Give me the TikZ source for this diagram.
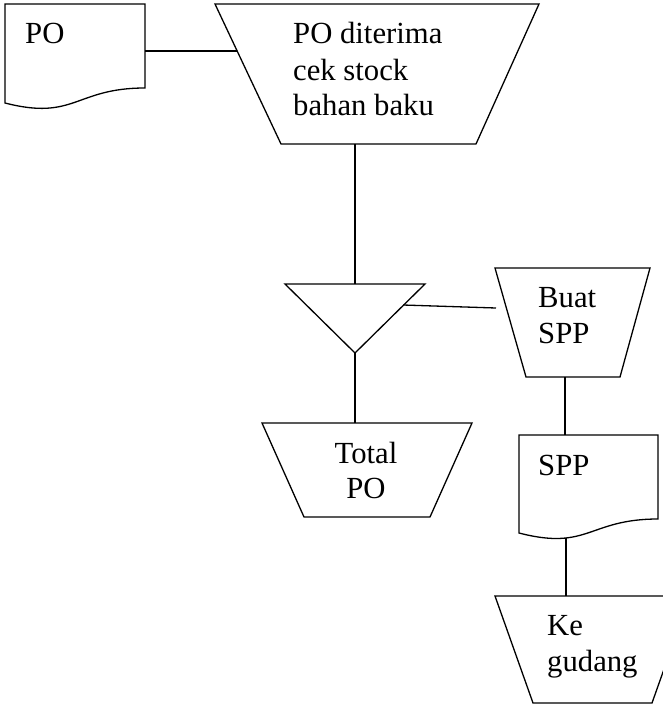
\documentclass[tikz,border=0pt]{standalone}
\usepackage{fontspec}
\setmainfont{Liberation Serif}
\begin{document}
\begin{tikzpicture}[x=1pt,y=-1pt,
  shp/.style={draw=black, line width=1.3pt, line join=miter},
  conn/.style={draw=black, line width=1.3pt},
  lbl/.style={anchor=base west, inner sep=0pt, font=\fontsize{30.7}{36}\selectfont},
  clbl/.style={anchor=base, inner sep=0pt, font=\fontsize{30.7}{36}\selectfont}]
\useasboundingbox (0,0) rectangle (663,704);
\clip (0,0) rectangle (663,704);

% PO document
\draw[shp] (5,4) -- (145,4) -- (145,88) .. controls (75,88) and (75,121) .. (5,103) -- cycle;
\node[lbl] (tpo) at (25,43) {PO};
\coordinate (poR) at (145,51);

% PO diterima trapezoid
\draw[shp] (215,4) -- (539,4) -- (476,144) -- (281,144) -- cycle;
\node[lbl] (t1a) at (293,43) {PO diterima};
\node[lbl] (t1b) at (293,80) {cek stock};
\node[lbl] (t1c) at (293,115) {bahan baku};
\coordinate (trapL) at (237,51);
\coordinate (trapB) at (355,144);

% merge triangle
\draw[shp] (285,284) -- (425,284) -- (355,353) -- cycle;
\coordinate (triT) at (355,284);
\coordinate (triR) at (403,305);
\coordinate (triB) at (355,353);

% Total PO
\draw[shp] (262,423) -- (472,423) -- (430,517) -- (304,517) -- cycle;
\node[clbl] (t2a) at (366,463) {Total};
\node[clbl] (t2b) at (366,498) {PO};
\coordinate (totT) at (355,423);

% Buat SPP
\draw[shp] (495,268) -- (650,268) -- (620,377) -- (526,377) -- cycle;
\node[lbl] (t3a) at (538,307) {Buat};
\node[lbl] (t3b) at (538,343) {SPP};
\coordinate (buatL) at (496,308);
\coordinate (buatB) at (565,377);

% SPP document
\draw[shp] (519,435) -- (658,435) -- (658,519) .. controls (588.5,519) and (588.5,551) .. (519,533) -- cycle;
\node[lbl] (t4) at (538,475) {SPP};
\coordinate (sppT) at (565,435);
\coordinate (sppB) at (566,538);

% Ke gudang
\draw[shp] (495,596) -- (690,596) -- (652,703) -- (533,703) -- cycle;
\node[lbl] (t5a) at (547,635) {Ke};
\node[lbl] (t5b) at (547,671) {gudang};
\coordinate (kgT) at (566,596);

% connectors
\draw[conn] (poR) -- (trapL);
\draw[conn] (trapB) -- (triT);
\draw[conn] (triR) -- (buatL);
\draw[conn] (triB) -- (totT);
\draw[conn] (buatB) -- (sppT);
\draw[conn] (sppB) -- (kgT);
\end{tikzpicture}
\end{document}
